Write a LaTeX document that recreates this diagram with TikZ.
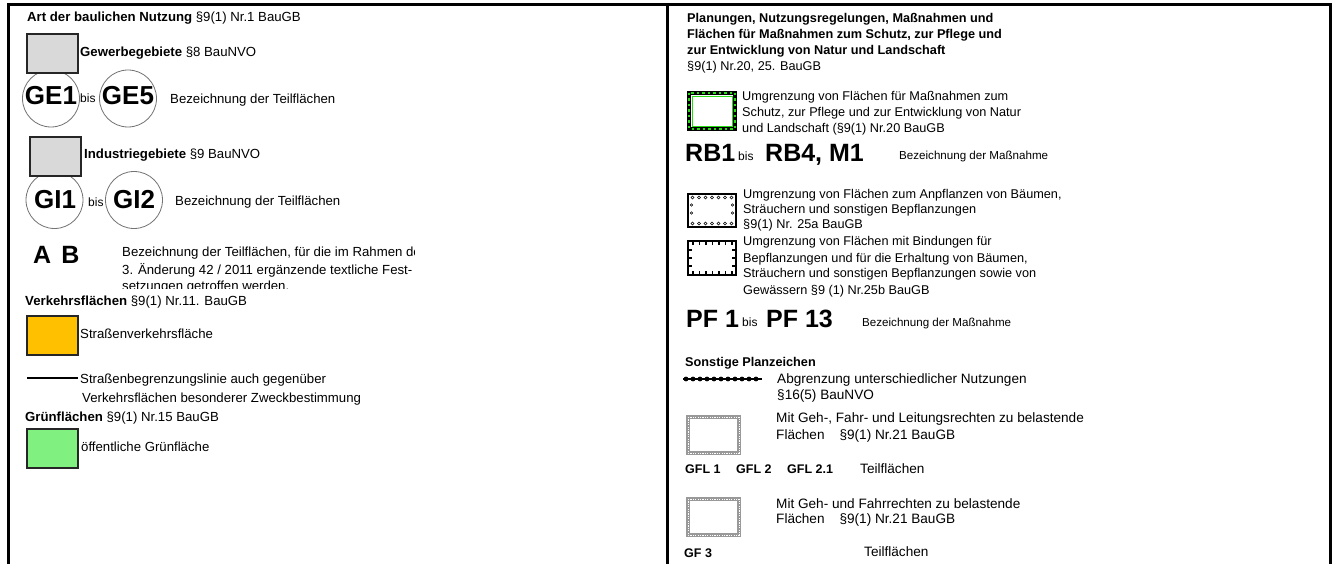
\documentclass[tikz,border=0pt]{standalone}
\usepackage{fontspec}
\setmainfont{Liberation Sans}
\definecolor{gebgray}{RGB}{217,217,217}
\definecolor{strorange}{RGB}{255,192,0}
\definecolor{gruen}{RGB}{128,240,128}
\definecolor{brightgreen}{RGB}{40,220,20}
\begin{document}
\begin{tikzpicture}[x=1pt,y=-1pt,
  frame/.style={line width=3pt,black},
  txt/.style={anchor=base west,inner sep=0pt,font=\fontsize{13.2}{15}\selectfont},
  txtr/.style={anchor=base west,inner sep=0pt,font=\fontsize{12.7}{15}\selectfont},
  txtm/.style={anchor=base west,inner sep=0pt,font=\fontsize{11.6}{14}\selectfont},
  txtb/.style={anchor=base west,inner sep=0pt,font=\fontsize{13.6}{16}\selectfont},
  bigl/.style={anchor=base,inner sep=0pt,font=\fontsize{26}{28}\selectfont\bfseries},
  bigw/.style={anchor=base west,inner sep=0pt,font=\fontsize{25}{28}\selectfont\bfseries},
  bis/.style={anchor=base west,inner sep=0pt,font=\fontsize{12}{14}\selectfont},
  gfl/.style={anchor=base west,inner sep=0pt,font=\fontsize{12.5}{15}\selectfont\bfseries},
  fillbox/.style={draw=black!85,line width=2pt,minimum width=51pt,minimum height=39pt,inner sep=0pt},
  ring/.style={draw=black!55,line width=0.8pt,circle,minimum size=57pt,inner sep=0pt}
]
\useasboundingbox (0,0) rectangle (1335,564);
\fill[white] (0,0) rectangle (1335,564);
% frame
\draw[frame] (8,564) -- (8,5) -- (1330,5) -- (1330,564);
\draw[frame] (667,5) -- (667,564);

% ---------------- left column
\node[txt] (hl) at (27,22) {\textbf{Art der baulichen Nutzung} §9(1) Nr.1 BauGB};

\node[ring] (cge1) at (51,98.5) {};
\node[ring] (cge5) at (128,98.5) {};
\node[fillbox,fill=gebgray] (gebox) at (52,53.5) {};
\node[txt] (getxt) at (80,56.5) {\textbf{Gewerbegebiete} §8 BauNVO};
\node[bigl] (ge1) at (51,105) {GE1};
\node[bis] (bis1) at (80,103) {bis};
\node[bigl] (ge5) at (128,105) {GE5};
\node[txt] (gebez) at (170,104) {Bezeichnung der Teilflächen};

\node[ring] (cgi1) at (54.5,200) {};
\node[ring] (cgi2) at (134,200) {};
\node[fillbox,fill=gebgray] (gibox) at (55,157) {};
\node[txt] (gitxt) at (84,159) {\textbf{Industriegebiete} §9 BauNVO};
\node[bigl] (gi1) at (55,208) {GI1};
\node[bis] (bis2) at (88,207) {bis};
\node[bigl] (gi2) at (134,208) {GI2};
\node[txt] (gibez) at (175,206) {Bezeichnung der Teilflächen};

\node[bigw] (ab) at (33,263) {A\hspace{10pt}B};
\begin{scope}
\clip (110,235) rectangle (414,288.5);
\node[txt] (abl1) at (122,256) {Bezeichnung der Teilflächen, für die im Rahmen der};
\node[txt] (abl2) at (122,274) {3. Änderung 42 / 2011 ergänzende textliche Fest-};
\node[txt] (abl3) at (122,290) {setzungen getroffen werden.};
\end{scope}

\node[txt] (vk) at (25,305) {\textbf{Verkehrsflächen} §9(1) Nr.11. BauGB};
\node[fillbox,fill=strorange] (orbox) at (52.5,335.5) {};
\node[txt] (ortxt) at (80,338) {Straßenverkehrsfläche};
\coordinate (sl1) at (27,378);
\coordinate (sl2) at (78,378);
\draw[line width=1.2pt] (sl1) -- (sl2);
\node[txt] (sltxt1) at (80,383) {Straßenbegrenzungslinie auch gegenüber};
\node[txt] (sltxt2) at (82,402) {Verkehrsflächen besonderer Zweckbestimmung};

\node[txt] (gr) at (25,421) {\textbf{Grünflächen} §9(1) Nr.15 BauGB};
\node[fillbox,fill=gruen] (grbox) at (52.5,448) {};
\node[txt] (grtxt) at (81,451) {öffentliche Grünfläche};

% ---------------- right column
\node[txtr] (hr1) at (687,23) {\textbf{Planungen, Nutzungsregelungen, Maßnahmen und}};
\node[txtr] (hr2) at (687,39) {\textbf{Flächen für Maßnahmen zum Schutz, zur Pflege  und}};
\node[txtr] (hr3) at (687,55) {\textbf{zur Entwicklung von Natur und Landschaft}};
\node[txtr] (hr4) at (687,71) {§9(1) Nr.20, 25. BauGB};

% green dotted box
\draw[line width=4pt,black,fill=white] (689,93) rectangle (735,129);
\draw[line width=2.2pt,brightgreen,dash pattern=on 2.5pt off 3pt] (689,93) rectangle (735,129);
\draw[line width=0.6pt,brightgreen] (692,96) rectangle (732,126);
\node[txtr] (sn1) at (742,101) {Umgrenzung von Flächen für Maßnahmen zum};
\node[txtr] (sn2) at (742,117) {Schutz, zur Pflege und zur Entwicklung von Natur};
\node[txtr] (sn3) at (742,133) {und Landschaft  (§9(1) Nr.20 BauGB};

\node[bigw] (rb1) at (685,162) {RB1};
\node[bis] (bis3) at (738,161) {bis};
\node[bigw] (rb4) at (765,162) {RB4, M1};
\node[txtm] (rbbez) at (899,160) {Bezeichnung der Maßnahme};

% Anpflanzen box
\draw[line width=2.2pt,black] (688,194) rectangle (736,227);
\foreach \xx in {692.5,699,705.5,712,718.5,725,731.5} {
  \draw[line width=0.6pt] (\xx,197.5) circle (1.5pt);
  \draw[line width=0.6pt] (\xx,223.5) circle (1.5pt);
}
\foreach \yy in {205,213} {
  \draw[line width=0.6pt] (691.5,\yy) circle (1.3pt);
  \draw[line width=0.6pt] (732.5,\yy) circle (1.3pt);
}
\node[txtr] (ap1) at (743,198) {Umgrenzung von Flächen zum Anpflanzen von Bäumen,};
\node[txtr] (ap2) at (743,214) {Sträuchern und sonstigen Bepflanzungen};
\node[txtr] (ap3) at (743,229) {§9(1) Nr. 25a BauGB};

% Bindungen box
\draw[line width=2.2pt,black] (688,241) rectangle (736,275);
\foreach \xx in {693,699.5,706,712.5,719,725.5,732} {
  \draw[line width=1.2pt] (\xx,241) -- (\xx,245);
  \draw[line width=1.2pt] (\xx,275) -- (\xx,271);
}
\foreach \yy in {250,258,266} {
  \draw[line width=1.2pt] (688,\yy) -- (692,\yy);
  \draw[line width=1.2pt] (736,\yy) -- (732,\yy);
}
\node[txtr] (bd1) at (743,245) {Umgrenzung von Flächen mit Bindungen für};
\node[txtr] (bd2) at (743,262) {Bepflanzungen  und für die Erhaltung von Bäumen,};
\node[txtr] (bd3) at (743,277) {Sträuchern und sonstigen Bepflanzungen sowie von};
\node[txtr] (bd4) at (743,294) {Gewässern §9 (1) Nr.25b BauGB};

\node[bigw] (pf1) at (686,327) {PF 1};
\node[bis] (bis4) at (742,326) {bis};
\node[bigw] (pf13) at (766,327) {PF 13};
\node[txtm] (pfbez) at (862,326) {Bezeichnung der Maßnahme};

\node[txtr] (sp) at (685,366) {\textbf{Sonstige Planzeichen}};
\coordinate (dl1) at (683,379);
\coordinate (dl2) at (762,379);
\draw[line width=1.8pt] (dl1) -- (dl2);
\foreach \xx in {686,693,700,707,714,721,728,735,742,749,756} {
  \fill (\xx,379) circle (2.4pt);
}
\node[txtb] (ab1) at (777,383) {Abgrenzung unterschiedlicher Nutzungen};
\node[txtb] (ab2) at (777,399) {§16(5) BauNVO};

% GFL box
\draw[gray!80,line width=3.2pt] (688,417) rectangle (739,453);
\draw[white,line width=0.9pt,dash pattern=on 1.2pt off 1.2pt] (688,417) rectangle (739,453);
\node[txtb] (gf1) at (776,422) {Mit Geh-, Fahr- und Leitungsrechten zu belastende};
\node[txtb] (gf2) at (776,439) {Flächen\hspace{1.1em}§9(1) Nr.21 BauGB};
\node[gfl] (gfl1) at (685,473) {GFL 1};
\node[gfl] (gfl2) at (736,473) {GFL 2};
\node[gfl] (gfl21) at (787,473) {GFL 2.1};
\node[txtb] (gflt) at (860,473) {Teilflächen};

% GF box
\draw[gray!80,line width=3.2pt] (688,499) rectangle (739,535);
\draw[white,line width=0.9pt,dash pattern=on 1.2pt off 1.2pt] (688,499) rectangle (739,535);
\node[txtb] (gf3a) at (776,508) {Mit Geh- und Fahrrechten zu belastende};
\node[txtb] (gf3b) at (776,523) {Flächen\hspace{1.1em}§9(1) Nr.21 BauGB};
\node[gfl] (gf3) at (684,557) {GF 3};
\node[txtb] (gf3t) at (864,556) {Teilflächen};
\end{tikzpicture}
\end{document}
